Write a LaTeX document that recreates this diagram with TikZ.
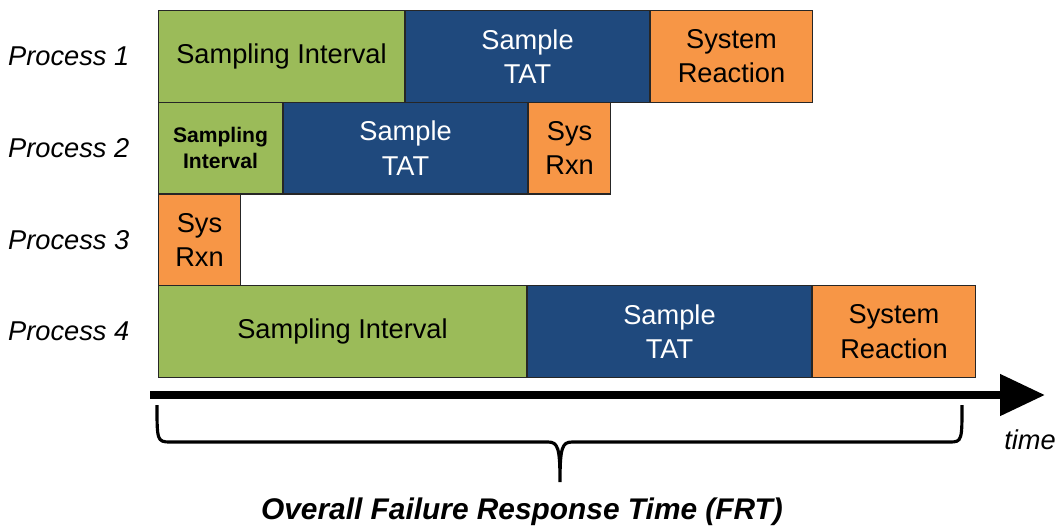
\documentclass[tikz,border=0pt]{standalone}
\usepackage{fontspec}
\setmainfont{Liberation Sans}
\usetikzlibrary{arrows.meta,positioning}
\definecolor{intgreen}{HTML}{9BBB59}
\definecolor{tatblue}{HTML}{1F497D}
\definecolor{rxnorange}{HTML}{F79646}

\begin{document}
\begin{tikzpicture}[x=0.02cm, y=-0.02cm,
  every node/.style={font=\fontsize{15.5}{19.5}\selectfont},
  seg/.style={draw=black!85, line width=0.6pt, anchor=north west, inner sep=0pt,
    align=center, minimum height=1.835cm},
  interval/.style={seg, fill=intgreen},
  tat/.style={seg, fill=tatblue, text=white},
  rxn/.style={seg, fill=rxnorange},
  proc/.style={font=\fontsize{15.5}{19.5}\selectfont\itshape, left=0.45cm of #1}]
\useasboundingbox (0,0) rectangle (1060,529);
% Process 1
\node[interval, minimum width=4.92cm] (i1) at (158,10) {Sampling Interval};
\node[tat, minimum width=4.88cm, right=0pt of i1] (t1) {Sample\\TAT};
\node[rxn, minimum width=3.24cm, right=0pt of t1] (r1) {System\\Reaction};
% Process 2
\node[interval, minimum width=2.48cm, font=\fontsize{12}{15}\selectfont\bfseries] (i2) at (158,101.75) {Sampling\\Interval};
\node[tat, minimum width=4.88cm, right=0pt of i2] (t2) {Sample\\TAT};
\node[rxn, minimum width=1.64cm, right=0pt of t2] (r2) {Sys\\Rxn};
% Process 3
\node[rxn, minimum width=1.64cm] (r3) at (158,193.5) {Sys\\Rxn};
% Process 4
\node[interval, minimum width=7.36cm] (i4) at (158,285.25) {Sampling Interval};
\node[tat, minimum width=5.68cm, right=0pt of i4] (t4) {Sample\\TAT};
\node[rxn, minimum width=3.26cm, right=0pt of t4] (r4) {System\\Reaction};
% Row labels
\node[proc=i1] (p1) {Process 1};
\node[proc=i2] (p2) {Process 2};
\node[proc=r3] (p3) {Process 3};
\node[proc=i4] (p4) {Process 4};
% Time axis
\coordinate (a0) at (150,395);
\coordinate (a1) at (1045,395);
\draw[line width=4.5pt, -{Triangle[length=0.9cm, width=0.8cm]}] (a0) -- (a1);
\node[font=\fontsize{15.5}{19.5}\selectfont\itshape] (tm) at (1030,440) {time};
% Brace
\coordinate (b0) at (157,405);
\coordinate (b1) at (962,405);
\coordinate (tip) at (560,482);
\draw[line width=1.8pt] (b0) .. controls (157,440) and (157,442) .. (170,442)
  -- (548,442) .. controls (558,442) and (560,448) .. (tip)
  .. controls (560,448) and (562,442) .. (572,442)
  -- (950,442) .. controls (962,442) and (962,440) .. (b1);
\node[font=\fontsize{17}{20}\selectfont\bfseries\itshape] (frt) at (522,512) {Overall Failure Response Time (FRT)};
\end{tikzpicture}
\end{document}
